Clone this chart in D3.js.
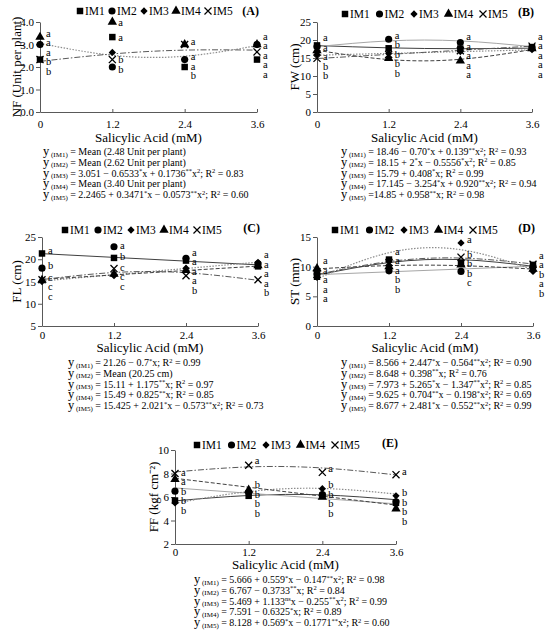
<!DOCTYPE html>
<html>
<head>
<meta charset="utf-8">
<script src="https://cdn.jsdelivr.net/npm/d3@7"></script>
<style>
body{margin:0;background:#fff;}
svg text{font-family:"Liberation Serif","Times New Roman",serif;fill:#000;}
</style>
</head>
<body>
<div class="chart"></div>
<script>
const doses = [0, 1.2, 2.4, 3.6];
const xTickLabels = ["0", "1.2", "2.4", "3.6"];
const seriesNames = ["IM1", "IM2", "IM3", "IM4", "IM5"];
const xTitle = "Salicylic Acid (mM)";

// (A) NF
const nfValues = [[2.33, 3.33, 2.0, 2.33], [3.0, 2.0, 2.33, 3.0], [3.0, 2.65, 2.33, 3.0], [3.33, 4.0, 3.0, 3.0], [2.33, 2.33, 3.0, 2.67]];
const nfLetters = [["b","a","b","a"], ["a","b","a","a"], ["a","","a","a"], ["a","a","a","a"], ["b","b","","a"]];
const nfTrend = [null, null, [3.05, 2.52, 2.48, 2.95], null, [2.25, 2.58, 2.75, 2.75]];
const nfTicks = [0, 1, 2, 3, 4];
const nfEquations = [
  "y_{(IM1)} = Mean (2.48 Unit per plant)",
  "y_{(IM2)} = Mean (2.62 Unit per plant)",
  "y_{(IM3)} = 3.051 − 0.6533^{*}x + 0.1736^{**}x^{2}; R^{2} = 0.83",
  "y_{(IM4)} = Mean (3.40 Unit per plant)",
  "y_{(IM5)} = 2.2465 + 0.3471^{*}x − 0.0573^{**}x^{2}; R^{2} = 0.60"
];

// (B) FW
const fwValues = [[18.5, 17.7, 17.6, 18.0], [18.2, 20.2, 19.3, 17.9], [16.0, 16.3, 16.8, 17.3], [17.1, 14.9, 14.2, 17.6], [14.9, 16.0, 17.0, 18.3]];
const fwLetters = [["a","b","a","a"], ["a","a","a","a"], ["b","b","a","a"], ["a","b","a","a"], ["b","b","a","a"]];
const fwTrend = [[18.46, 17.82, 17.58, 17.74], [18.15, 19.75, 19.75, 18.15], [15.79, 16.28, 16.77, 17.26], [17.15, 14.57, 14.64, 17.35], [14.85, 16.0, 17.15, 18.3]];
const fwTicks = [0, 5, 10, 15, 20, 25];
const fwEquations = [
  "y_{(IM1)} = 18.46 − 0.70^{*}x + 0.139^{**}x^{2}; R^{2} = 0.93",
  "y_{(IM2)} = 18.15 + 2^{*}x − 0.5556^{*}x^{2}; R^{2} = 0.85",
  "y_{(IM3)} = 15.79 + 0.408^{*}x; R^{2} = 0.99",
  "y_{(IM4)} = 17.145 − 3.254^{*}x + 0.920^{**}x^{2}; R^{2} = 0.94",
  "y_{(IM5)} =14.85 + 0.958^{**}x; R^{2} = 0.98"
];

// (C) FL
const flValues = [[21.3, 20.3, 19.7, 18.4], [18.0, 22.8, 20.2, 19.0], [15.0, 16.3, 18.0, 19.3], [15.3, 16.7, 17.5, 18.6], [15.4, 17.9, 16.3, 15.4]];
const flLetters = [["a","b","a","a"], ["b","a","a","a"], ["c","c","a","a"], ["c","c","a","a"], ["c","c","b","b"]];
const flTrend = [[21.26, 20.42, 19.58, 18.74], null, [15.11, 16.52, 17.93, 19.34], [15.49, 16.48, 17.47, 18.46], [15.43, 17.02, 16.97, 15.27]];
const flTicks = [5, 10, 15, 20, 25];
const flEquations = [
  "y_{(IM1)} = 21.26 − 0.7^{*}x; R^{2} = 0.99",
  "y_{(IM2)} = Mean (20.25 cm)",
  "y_{(IM3)} = 15.11 + 1.175^{**}x; R^{2} = 0.97",
  "y_{(IM4)} = 15.49 + 0.825^{**}x; R^{2} = 0.85",
  "y_{(IM5)} = 15.425 + 2.021^{*}x − 0.573^{**}x^{2}; R^{2} = 0.73"
];

// (D) ST
const stValues = [[8.3, 11.2, 10.6, 10.3], [8.8, 9.3, 9.2, 10.0], [8.2, 11.0, 14.0, 9.2], [9.7, 10.0, 10.3, 9.6], [8.7, 10.7, 11.6, 10.4]];
const stLetters = [["a","a","b","a"], ["a","b","c","b"], ["a","a","a","b"], ["a","b","b","a"], ["a","a","b","a"]];
const stTrend = [[8.57, 10.69, 11.19, 10.07], [8.65, 9.13, 9.60, 10.08], [7.97, 12.35, 12.85, 9.47], [9.63, 10.18, 10.17, 9.59], [8.68, 10.86, 11.45, 10.45]];
const stTicks = [0, 5, 10, 15];
const stEquations = [
  "y_{(IM1)} = 8.566 + 2.447^{*}x − 0.564^{**}x^{2}; R^{2} = 0.90",
  "y_{(IM2)} = 8.648 + 0.398^{**}x; R^{2} = 0.76",
  "y_{(IM3)} = 7.973 + 5.265^{*}x − 1.347^{**}x^{2}; R^{2} = 0.85",
  "y_{(IM4)} = 9.625 + 0.704^{**}x − 0.198^{*}x^{2}; R^{2} = 0.69",
  "y_{(IM5)} = 8.677 + 2.481^{*}x − 0.552^{**}x^{2}; R^{2} = 0.99"
];

// (E) FF
const ffValues = [[5.7, 6.1, 6.1, 5.5], [6.5, 6.4, 6.2, 5.6], [5.5, 6.5, 6.7, 6.1], [7.5, 6.6, 6.0, 5.0], [8.0, 8.7, 8.1, 7.9]];
const ffLetters = [["b","b","b","b"], ["b","b","b","b"], ["b","b","b","b"], ["a","b","b","b"], ["a","a","a","a"]];
const ffTrend = [[5.67, 6.13, 6.18, 5.77], [6.77, 6.32, 5.87, 5.42], [5.47, 6.46, 6.73, 6.25], [7.59, 6.83, 6.07, 5.31], [8.13, 8.56, 8.47, 7.88]];
const ffTicks = [2, 4, 6, 8, 10];
const ffEquations = [
  "y_{(IM1)} = 5.666 + 0.559^{*}x − 0.147^{**}x^{2}; R^{2} = 0.98",
  "y_{(IM2)} = 6.767  − 0.3733^{**}x; R^{2} = 0.84",
  "y_{(IM3)} = 5.469 + 1.133^{ns}x − 0.255^{**}x^{2}; R^{2} = 0.99",
  "y_{(IM4)} = 7.591 − 0.6325^{*}x; R^{2} = 0.89",
  "y_{(IM5)} = 8.128 + 0.569^{*}x − 0.1771^{**}x^{2}; R^{2} = 0.60"
];

const svg = d3.select('.chart')
  .append('svg')
  .attr('width', 550)
  .attr('height', 637);

const symbols = [d3.symbolSquare, d3.symbolCircle, d3.symbolDiamond2 || d3.symbolDiamond, d3.symbolTriangle, d3.symbolX || d3.symbolCross];
const symbolSize = [42, 40, 34, 38, 34];
const lineStyle = [
  {stroke: "#404040", dash: null, w: 1},
  {stroke: "#a6a6a6", dash: null, w: 1},
  {stroke: "#8c8c8c", dash: "1.5,1.5", w: 1.2},
  {stroke: "#404040", dash: "4,2", w: 1},
  {stroke: "#595959", dash: "6,2,1.5,2", w: 1}
];

// layout per panel
const panels = [
  {tag: "(A)", ylabel: "NF (Unit per plant)", values: nfValues, letters: nfLetters, trend: nfTrend, ticks: nfTicks, eqs: nfEquations,
   x0: 40, x1: 257, yTop: 22, yBot: 112, xPad: 8, titleY: 142, eqX: 43, eqY: 155, legX: 80, legStep: 32, legY: 11, tagY: 15, ylabX: 16},
  {tag: "(B)", ylabel: "FW (cm)", values: fwValues, letters: fwLetters, trend: fwTrend, ticks: fwTicks, eqs: fwEquations,
   x0: 317, x1: 532, yTop: 22, yBot: 112, xPad: 8, titleY: 142, eqX: 341, eqY: 155, legX: 345, legStep: 34.5, legY: 14, tagY: 16, ylabX: 294},
  {tag: "(C)", ylabel: "FL (cm)", values: flValues, letters: flLetters, trend: flTrend, ticks: flTicks, eqs: flEquations,
   x0: 42, x1: 258, yTop: 237, yBot: 326, xPad: 5, titleY: 352, eqX: 68, eqY: 366, legX: 65, legStep: 33, legY: 230, tagY: 232, ylabX: 16},
  {tag: "(D)", ylabel: "ST (mm)", values: stValues, letters: stLetters, trend: stTrend, ticks: stTicks, eqs: stEquations,
   x0: 317, x1: 533, yTop: 237, yBot: 326, xPad: 5, titleY: 352, eqX: 341, eqY: 366, legX: 335, legStep: 34.5, legY: 230, tagY: 232, ylabX: 294},
  {tag: "(E)", ylabel: "FF (kgf cm⁻²)", values: ffValues, letters: ffLetters, trend: ffTrend, ticks: ffTicks, eqs: ffEquations,
   x0: 175, x1: 396, yTop: 450, yBot: 544, xPad: 4, titleY: 569, eqX: 194, eqY: 583, legX: 197, legStep: 34.5, legY: 445, tagY: 447, ylabX: 153}
];

function eqText(t, str) {
  // "y" bigger, _{..} subscript, ^{..} superscript
  const parts = str.split(/(\^\{[^}]*\}|_\{[^}]*\})/).filter(s => s.length);
  let shift = 0;
  parts.forEach((s, k) => {
    let target = 0, size = "10px", txt = s;
    if (s.startsWith("^{")) { target = -3.5; size = "6.5px"; txt = s.slice(2, -1); }
    else if (s.startsWith("_{")) { target = 1.5; size = "7px"; txt = " " + s.slice(2, -1); }
    if (k === 0 && s.startsWith("y")) {
      t.append("tspan").attr("font-size", "12.5px").text("y");
      txt = s.slice(1);
      if (!txt.length) return;
    }
    t.append("tspan").attr("dy", target - shift).attr("font-size", size).text(txt);
    shift = target;
  });
}

function drawPanel(p) {
  const g = svg.append("g");
  const x = d3.scaleLinear().domain([0, 3.6]).range([p.x0, p.x1]);
  const y = d3.scaleLinear().domain(d3.extent(p.ticks)).range([p.yBot, p.yTop]);

  const xAxis = d3.axisBottom(x)
    .tickValues(doses)
    .tickFormat((d, i) => xTickLabels[i])
    .tickSize(-3)
    .tickSizeOuter(0)
    .tickPadding(p.xPad);
  const yAxis = d3.axisLeft(y)
    .tickValues(p.ticks)
    .tickSize(4)
    .tickSizeOuter(0)
    .tickPadding(2);

  const gx = g.append("g").attr("transform", "translate(0," + p.yBot + ")").call(xAxis);
  const gy = g.append("g").attr("transform", "translate(" + p.x0 + ",0)").call(yAxis);
  [gx, gy].forEach(a => {
    a.selectAll("path, line").attr("stroke", "#595959");
    a.selectAll("text").attr("font-size", "11px").attr("font-family", "Liberation Serif, serif");
  });

  g.append("text")
    .attr("x", (p.x0 + p.x1) / 2)
    .attr("y", p.titleY)
    .attr("text-anchor", "middle")
    .attr("font-size", "13px")
    .text(xTitle);

  g.append("text")
    .attr("transform", "translate(" + p.ylabX + "," + ((p.yTop + p.yBot) / 2) + ") rotate(-90)")
    .attr("text-anchor", "middle")
    .attr("dy", "0.35em")
    .attr("font-size", "13px")
    .text(p.ylabel);

  g.append("text")
    .attr("x", p.x1 + 2)
    .attr("y", p.tagY)
    .attr("text-anchor", "end")
    .attr("font-size", "12px")
    .attr("font-weight", "bold")
    .text(p.tag);

  // legend
  seriesNames.forEach((name, s) => {
    const lx = p.legX + s * p.legStep;
    g.append("path")
      .attr("transform", "translate(" + lx + "," + p.legY + ")")
      .attr("d", d3.symbol().type(symbols[s]).size(symbolSize[s])())
      .attr("fill", s === 4 ? "none" : "#000")
      .attr("stroke", s === 4 ? "#000" : "none")
      .attr("stroke-width", 1.2);
    g.append("text")
      .attr("x", lx + 5)
      .attr("y", p.legY + 4)
      .attr("font-size", "11.5px")
      .text(name);
  });

  // trend lines
  const line = d3.line()
    .x((d, i) => x(doses[i]))
    .y(d => y(d))
    .curve(d3.curveNatural);
  p.trend.forEach((tr, s) => {
    if (!tr) return;
    g.append("path")
      .attr("d", line(tr))
      .attr("fill", "none")
      .attr("stroke", lineStyle[s].stroke)
      .attr("stroke-width", lineStyle[s].w)
      .attr("stroke-dasharray", lineStyle[s].dash);
  });

  // markers
  p.values.forEach((vals, s) => {
    g.selectAll(".m" + s)
      .data(vals)
      .enter()
      .append("path")
      .attr("transform", (d, i) => "translate(" + x(doses[i]) + "," + y(d) + ")")
      .attr("d", d3.symbol().type(symbols[s]).size(symbolSize[s])())
      .attr("fill", s === 4 ? "none" : "#000")
      .attr("stroke", s === 4 ? "#000" : "none")
      .attr("stroke-width", 1.3);
  });

  // significance letters, spread so they don't overlap
  doses.forEach((d, i) => {
    const items = p.values.map((vals, s) => ({letter: p.letters[s][i], y: y(vals[i]), y0: y(vals[i])}))
      .filter(o => o.letter);
    items.sort((a, b) => a.y - b.y);
    for (let k = 1; k < items.length; k++) {
      if (items[k].y < items[k - 1].y + 9.5) items[k].y = items[k - 1].y + 9.5;
    }
    const shift = d3.mean(items, o => o.y0) - d3.mean(items, o => o.y);
    items.forEach(o => {
      g.append("text")
        .attr("x", x(d) + 6)
        .attr("y", o.y + shift * 0.6 + 4)
        .attr("font-size", "10.5px")
        .text(o.letter);
    });
  });

  // equations
  p.eqs.forEach((eq, k) => {
    const t = g.append("text")
      .attr("x", p.eqX)
      .attr("y", p.eqY + k * 10.8);
    eqText(t, eq);
  });
}

panels.forEach(drawPanel);
</script>
</body>
</html>
